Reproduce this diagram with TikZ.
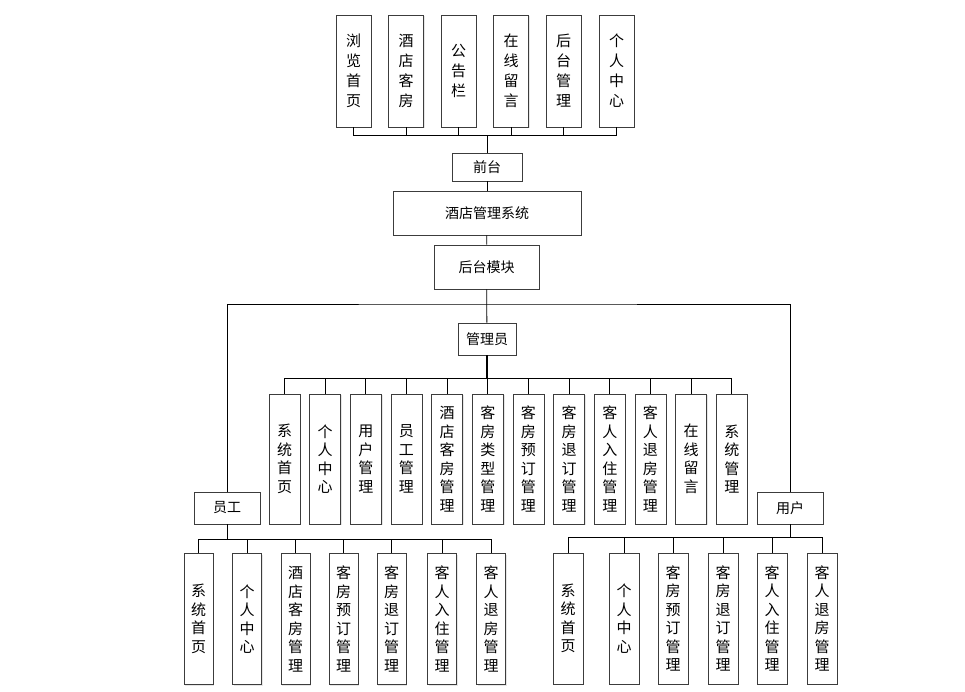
\documentclass[tikz,border=0pt]{standalone}
\usepackage{fontspec}
\setmainfont{Noto Sans CJK SC}
\usetikzlibrary{positioning,calc,shadows}
\definecolor{boxgray}{HTML}{3C3C3C}

\begin{document}
\begin{tikzpicture}[x=1pt,y=-1pt,
  box/.style={draw=boxgray,fill=white,line width=0.8pt,inner sep=0pt,align=center,
    font=\fontsize{14}{18}\selectfont,
    drop shadow={shadow xshift=1.2pt,shadow yshift=-1.2pt,opacity=0.2}},
  vbox/.style={box,minimum width=#1,text width=16pt,font=\fontsize{15}{18.5}\selectfont},
  link/.style={draw=black,line width=0.8pt}]
\useasboundingbox (0,0) rectangle (965,691);

% front side
\foreach \x/\lab [count=\i] in {353.5/浏\\览\\首\\页,406/酒\\店\\客\\房,458.5/公\\告\\栏,
  511/在\\线\\留\\言,563.5/后\\台\\管\\理,616.5/个\\人\\中\\心}{
  \node[vbox=35,minimum height=112,font=\fontsize{15}{20}\selectfont] (top\i) at (\x,71) {\lab};
}
\node[box,minimum width=70,minimum height=28] (qiantai) at (487,167) {前台};
\coordinate (fbus) at (487,135);
\foreach \i in {1,...,6}
  \draw[link] (top\i.south) |- (fbus);
\draw[link] (fbus) -- (qiantai.north);

% system and back side
\node[box,minimum width=188,minimum height=44] (system) at (487,213) {酒店管理系统};
\node[box,minimum width=105,minimum height=44] (houtai) at (486.5,267) {后台模块};
\node[box,minimum width=58,minimum height=32] (admin) at (487,339) {管理员};
\node[box,minimum width=66,minimum height=32] (yuangong) at (227,508) {员工};
\node[box,minimum width=66,minimum height=32] (yonghu) at (790,508) {用户};
\draw[link] (qiantai) -- (system);
\draw[link] (system) -- (houtai);
\draw[link] (houtai) -- (admin);
\coordinate (bbus) at (487,304);
\draw[link] (yuangong) |- (bbus) -| (yonghu);

% admin functions
\coordinate (abus) at (487,378);
\draw[link,line width=1.2pt] (admin) -- (abus);
\foreach \lab [count=\i] in {系\\统\\首\\页,个\\人\\中\\心,用\\户\\管\\理,员\\工\\管\\理,
  酒\\店\\客\\房\\管\\理,客\\房\\类\\型\\管\\理,客\\房\\预\\订\\管\\理,客\\房\\退\\订\\管\\理,
  客\\人\\入\\住\\管\\理,客\\人\\退\\房\\管\\理,在\\线\\留\\言,系\\统\\管\\理}{
  \node[vbox=31,minimum height=130] (adm\i) at ({284.5+40.66*(\i-1)},459) {\lab};
  \draw[link] (abus) -| (adm\i);
}

% staff functions
\coordinate (ebus) at (227,539);
\draw[link] (yuangong) -- (ebus);
\foreach \x/\lab [count=\i] in {198.5/系\\统\\首\\页,247/个\\人\\中\\心,295.5/酒\\店\\客\\房\\管\\理,
  343.5/客\\房\\预\\订\\管\\理,391.5/客\\房\\退\\订\\管\\理,442/客\\人\\入\\住\\管\\理,
  491/客\\人\\退\\房\\管\\理}{
  \node[vbox=29,minimum height=131] (emp\i) at (\x,619) {\lab};
  \draw[link] (ebus) -| (emp\i);
}

% user functions
\coordinate (ubus) at (790,537);
\draw[link] (yonghu) -- (ubus);
\foreach \x/\lab [count=\i] in {568/系\\统\\首\\页,624/个\\人\\中\\心,673/客\\房\\预\\订\\管\\理,
  723/客\\房\\退\\订\\管\\理,772/客\\人\\入\\住\\管\\理,822/客\\人\\退\\房\\管\\理}{
  \node[vbox=30,minimum height=131] (usr\i) at (\x,618.5) {\lab};
  \draw[link] (ubus) -| (usr\i);
}
\end{tikzpicture}
\end{document}
